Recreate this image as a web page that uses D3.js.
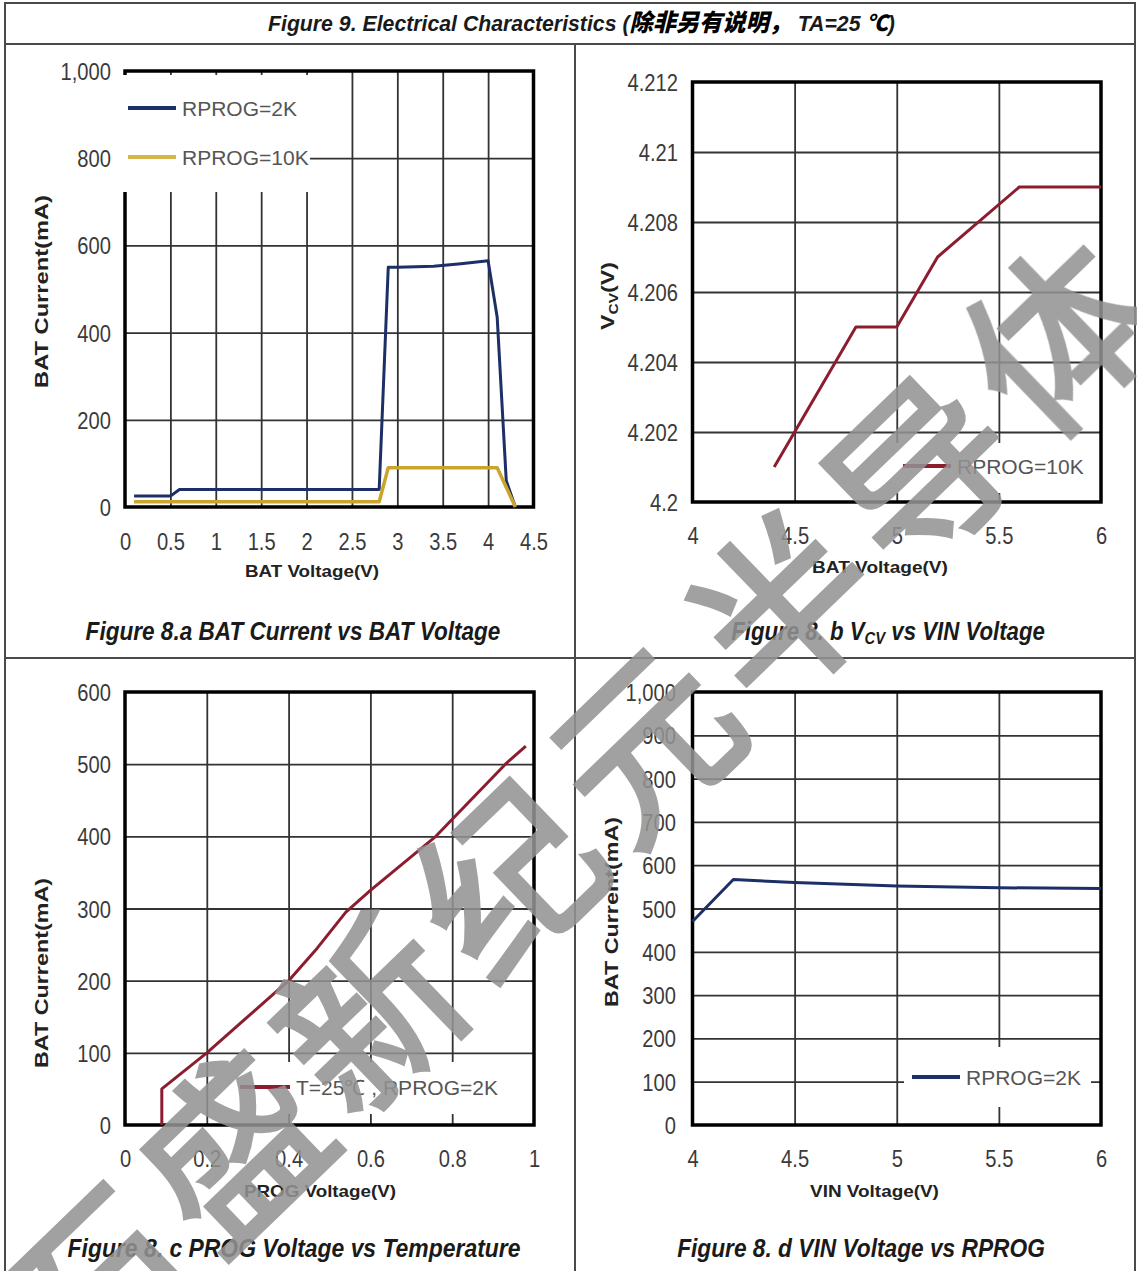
<!DOCTYPE html>
<html><head><meta charset="utf-8">
<script src="https://cdn.jsdelivr.net/npm/d3@7"></script>
<style>body{margin:0;background:#fff}svg{display:block}</style>
</head><body>
<script>
// ---------- DATA ----------
const aXTicks = [0, 0.5, 1, 1.5, 2, 2.5, 3, 3.5, 4, 4.5];
const aYTicks = [0, 200, 400, 600, 800, 1000];
const aSeries2K  = [[0.1,25],[0.5,25],[0.6,40],[2.8,40],[2.9,550],[3.0,550],[3.4,552],[3.7,558],[4.0,565],[4.1,435],[4.2,60],[4.3,0]];
const aSeries10K = [[0.1,12],[2.8,12],[2.9,90],[4.1,90],[4.3,0]];

const bXTicks = [4, 4.5, 5, 5.5, 6];
const bYTicks = [4.2, 4.202, 4.204, 4.206, 4.208, 4.21, 4.212];
const bSeries10K = [[4.4,4.201],[4.8,4.205],[5.0,4.205],[5.2,4.207],[5.6,4.209],[6.0,4.209]];

const cXTicks = [0, 0.2, 0.4, 0.6, 0.8, 1];
const cYTicks = [0, 100, 200, 300, 400, 500, 600];
const cSeries = [[0.09,0],[0.09,50],[0.2,100],[0.4,200],[0.47,245],[0.54,295],[0.6,325],[0.76,400],[0.93,500],[0.98,525]];

const dXTicks = [4, 4.5, 5, 5.5, 6];
const dYTicks = [0, 100, 200, 300, 400, 500, 600, 700, 800, 900, 1000];
const dSeries2K = [[4.0,470],[4.2,567],[4.5,560],[5.0,552],[5.5,548],[6.0,546]];

const watermarkChars = ["石","盛","新","纪","元","半","导","体"];

// ---------- STYLE ----------
const FONT = "'Liberation Sans', Arial, Helvetica, sans-serif";
const NARROW = "'Liberation Sans Narrow', 'Arial Narrow', 'Liberation Sans', Arial, sans-serif";
const CJK = "'Noto Sans CJK SC', sans-serif";
const BLUE = "#1c2f66", GOLD = "#c9a52e", RED = "#8c1d2f";
const W = 1137, H = 1271;

const svg = d3.select("body").append("svg").attr("width", W).attr("height", H);
svg.append("rect").attr("width", W).attr("height", H).attr("fill", "#fff");

// frame
const frame = svg.append("g").attr("stroke", "#4a4a4a").attr("stroke-width", 2).attr("fill", "none");
frame.append("path").attr("d", `M5,${H} V3 H1135 V${H}`);
frame.append("line").attr("x1", 5).attr("x2", 1135).attr("y1", 44).attr("y2", 44);
frame.append("line").attr("x1", 575).attr("x2", 575).attr("y1", 44).attr("y2", H);
frame.append("line").attr("x1", 5).attr("x2", 1135).attr("y1", 658).attr("y2", 658);

// helper: horizontal scale-fit of a text element so that it spans `width`
function fit(t, x, y, width, anchor, rot) {
  t.attr("text-anchor", anchor || "start");
  const w = t.node().getBBox().width;
  const sx = width / w;
  t.attr("transform", `translate(${x},${y})${rot ? ` rotate(${rot})` : ""} scale(${sx},1)`);
  return t;
}

// title
{
  const t = svg.append("text").attr("font-family", NARROW).attr("font-style", "italic")
    .attr("font-weight", "bold").attr("font-size", 22).attr("fill", "#1a1a1a");
  t.append("tspan").text("Figure  9. Electrical Characteristics (");
  t.append("tspan").attr("font-family", CJK).attr("font-weight", 900).attr("font-size", 24).attr("fill", "#000").text("除非另有说明，");
  t.append("tspan").text(" TA=25 ");
  t.append("tspan").attr("font-family", CJK).attr("font-weight", 900).attr("fill", "#000").text("℃");
  t.append("tspan").text(")");
  fit(t, 268, 31, 627, "start");
}

function panel(cfg) {
  const g = svg.append("g");
  const x = d3.scaleLinear().domain(cfg.xDomain).range(cfg.xRange);
  const y = d3.scaleLinear().domain(cfg.yDomain).range(cfg.yRange);
  const [L, R] = cfg.xRange, [B, T] = cfg.yRange;

  // grid through axes
  g.append("g").attr("transform", `translate(0,${B})`)
    .call(d3.axisBottom(x).tickValues(cfg.xTicks.slice(1, -1)).tickSize(-(B - T)).tickFormat(""))
    .call(s => { s.select(".domain").remove(); s.selectAll("line").attr("stroke", "#333").attr("stroke-width", 1.8); });
  g.append("g").attr("transform", `translate(${L},0)`)
    .call(d3.axisLeft(y).tickValues(cfg.yTicks.slice(1, -1)).tickSize(-(R - L)).tickFormat(""))
    .call(s => { s.select(".domain").remove(); s.selectAll("line").attr("stroke", "#333").attr("stroke-width", 1.8); });

  // plot border
  g.append("rect").attr("x", L).attr("y", T).attr("width", R - L).attr("height", B - T)
    .attr("fill", "none").attr("stroke", "#000").attr("stroke-width", 3.5);

  // tick labels
  const xa = g.append("g").attr("transform", `translate(0,${B})`)
    .call(d3.axisBottom(x).tickValues(cfg.xTicks).tickSize(0).tickFormat(cfg.xFmt));
  xa.select(".domain").remove();
  xa.selectAll("text").attr("font-family", FONT).attr("font-size", 24).attr("fill", "#3a3a3a")
    .attr("y", 0).attr("dy", 0).attr("transform", `translate(0,${cfg.xLabelBase - B}) scale(0.84,1)`);
  const ya = g.append("g").attr("transform", `translate(${cfg.yLabelRight},0)`)
    .call(d3.axisLeft(y).tickValues(cfg.yTicks).tickSize(0).tickPadding(0).tickFormat(cfg.yFmt));
  ya.select(".domain").remove();
  ya.selectAll("text").attr("font-family", FONT).attr("font-size", 24).attr("fill", "#3a3a3a")
    .attr("x", 0).attr("dy", 0).attr("transform", "translate(0,8.5) scale(0.84,1)");

  // legend box
  const lb = cfg.legend.box;
  g.append("rect").attr("x", lb[0]).attr("y", lb[1]).attr("width", lb[2]).attr("height", lb[3]).attr("fill", "#fff");

  // series
  const line = d3.line().x(d => x(d[0])).y(d => y(d[1]));
  cfg.series.forEach(s => {
    g.append("path").attr("d", line(s.data)).attr("fill", "none").attr("stroke", s.color)
      .attr("stroke-width", s.width || 3).attr("stroke-linejoin", "round");
  });

  // legend items
  cfg.legend.items.forEach((it, i) => {
    const s = cfg.series[i];
    g.append("line").attr("x1", it.x1).attr("x2", it.x2).attr("y1", it.y).attr("y2", it.y)
      .attr("stroke", it.color || s.color).attr("stroke-width", 4);
    g.append("text").attr("x", it.tx).attr("y", it.y + 7.5).attr("font-family", FONT)
      .attr("font-size", 21).attr("fill", "#555").text(s.name);
  });

  // axis titles
  const xt = g.append("text").attr("font-family", FONT).attr("font-weight", "bold").attr("font-size", 17)
    .attr("fill", "#222").text(cfg.xTitle);
  fit(xt, cfg.xTitlePos[0], cfg.xTitlePos[1], cfg.xTitlePos[2], "middle");
  const yt = g.append("text").attr("font-family", FONT).attr("font-weight", "bold").attr("font-size", 18)
    .attr("fill", "#222");
  cfg.yTitle(yt);
  fit(yt, cfg.yTitlePos[0], cfg.yTitlePos[1], cfg.yTitlePos[2], "middle", -90);

  // caption
  const cap = g.append("text").attr("font-family", NARROW).attr("font-style", "italic")
    .attr("font-weight", "bold").attr("font-size", 25.5).attr("fill", "#1a1a1a");
  cfg.caption(cap);
  fit(cap, cfg.capPos[0], cfg.capPos[1], cfg.capPos[2], "middle");
}

const fmtPlain = d => String(+d.toFixed(3));
const fmtComma = d3.format(",");

panel({
  xDomain: [0, 4.5], xRange: [125, 533.5], yDomain: [0, 1000], yRange: [507, 71],
  xTicks: aXTicks, yTicks: aYTicks, xFmt: fmtPlain, yFmt: fmtComma,
  xLabelBase: 550, yLabelRight: 111,
  series: [{name: "RPROG=2K", data: aSeries2K, color: BLUE}, {name: "RPROG=10K", data: aSeries10K, color: GOLD, width: 3.5}],
  legend: {box: [121, 75, 189, 117], items: [
    {x1: 128, x2: 176, y: 108, tx: 182},
    {x1: 128, x2: 176, y: 157, tx: 182, color: "#d6b646"}]},
  xTitle: "BAT Voltage(V)", xTitlePos: [312, 577, 134],
  yTitle: t => t.text("BAT Current(mA)"), yTitlePos: [48, 291.5, 193],
  caption: t => t.text("Figure 8.a BAT Current vs BAT Voltage"), capPos: [293, 640, 415]
});

panel({
  xDomain: [4, 6], xRange: [692.5, 1101], yDomain: [4.2, 4.212], yRange: [502, 82],
  xTicks: bXTicks, yTicks: bYTicks, xFmt: fmtPlain, yFmt: fmtPlain,
  xLabelBase: 543.5, yLabelRight: 678,
  series: [{name: "RPROG=10K", data: bSeries10K, color: RED}],
  legend: {box: [896, 443, 194, 50], items: [{x1: 903, x2: 951, y: 466, tx: 957}]},
  xTitle: "BAT Voltage(V)", xTitlePos: [880, 573, 136],
  yTitle: t => { t.append("tspan").text("V"); t.append("tspan").attr("font-size", 12).attr("dy", 4).text("CV"); t.append("tspan").attr("dy", -4).text("(V)"); },
  yTitlePos: [614, 296, 68],
  caption: t => { t.append("tspan").text("Figure  8. b V"); t.append("tspan").attr("font-size", 17).attr("dy", 4).text("CV"); t.append("tspan").attr("dy", -4).text(" vs VIN Voltage"); },
  capPos: [888, 640, 314]
});

panel({
  xDomain: [0, 1], xRange: [125, 534], yDomain: [0, 600], yRange: [1125, 692],
  xTicks: cXTicks, yTicks: cYTicks, xFmt: fmtPlain, yFmt: fmtComma,
  xLabelBase: 1167, yLabelRight: 111,
  series: [{name: "T=25℃ , RPROG=2K", data: cSeries, color: RED}],
  legend: {box: [232, 1062, 278, 52], items: [{x1: 240, x2: 290, y: 1087, tx: 296}]},
  xTitle: "PROG Voltage(V)", xTitlePos: [320, 1197, 152],
  yTitle: t => t.text("BAT Current(mA)"), yTitlePos: [48, 973, 190],
  caption: t => t.text("Figure  8. c  PROG  Voltage  vs  Temperature"), capPos: [294, 1257, 453]
});

panel({
  xDomain: [4, 6], xRange: [692.5, 1101], yDomain: [0, 1000], yRange: [1125, 692],
  xTicks: dXTicks, yTicks: dYTicks, xFmt: fmtPlain, yFmt: fmtComma,
  xLabelBase: 1167, yLabelRight: 676,
  series: [{name: "RPROG=2K", data: dSeries2K, color: BLUE}],
  legend: {box: [904, 1047, 187, 60], items: [{x1: 912, x2: 960, y: 1077, tx: 966}]},
  xTitle: "VIN Voltage(V)", xTitlePos: [874.5, 1197, 129],
  yTitle: t => t.text("BAT Current(mA)"), yTitlePos: [618, 912, 190],
  caption: t => t.text("Figure  8. d  VIN  Voltage  vs  RPROG"), capPos: [861, 1257, 368]
});

// watermark (translucent gray, as in the reference)
const wm = svg.append("g").attr("opacity", 0.87);
watermarkChars.forEach((ch, i) => {
  const cx = 88 + i * 137.5, cy = 1278 - i * 135.5;
  wm.append("text").attr("transform", `translate(${cx},${cy}) rotate(-44)`)
    .attr("text-anchor", "middle").attr("dominant-baseline", "central")
    .attr("font-family", CJK).attr("font-weight", 400).attr("font-size", 178)
    .attr("fill", "#939393").attr("stroke", "#939393").attr("stroke-width", 4.5)
    .attr("stroke-linejoin", "miter").text(ch);
});
</script>
</body></html>
